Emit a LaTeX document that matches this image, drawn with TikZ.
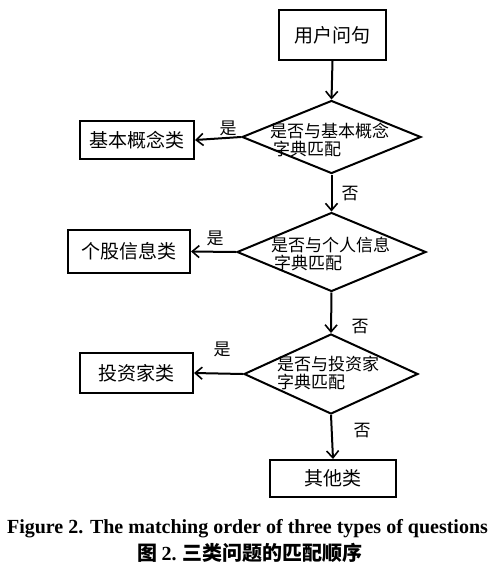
\documentclass[tikz,border=0pt]{standalone}
\usepackage{fontspec}
\setmainfont{Liberation Serif}
\newfontfamily\cjk{Noto Sans CJK SC}
\usetikzlibrary{arrows.meta,shapes.geometric}
\tikzset{
  box/.style={draw,line width=2pt,inner sep=0pt,font=\cjk\fontsize{19}{19}\selectfont},
  dia/.style={draw,diamond,line width=2pt,inner sep=0pt,aspect=1},
  dtext/.style={anchor=west,align=left,inner sep=0pt,font=\cjk\fontsize{17}{18}\selectfont},
  lab/.style={inner sep=0pt,font=\cjk\fontsize{17}{17}\selectfont},
  arr/.style={line width=2pt,-{Straight Barb[length=7pt,width=12pt,line width=1.6pt]}}
}
\begin{document}
\begin{tikzpicture}[x=1pt,y=-1pt]
\useasboundingbox (0,0) rectangle (495,574);
\node[box,minimum width=107pt,minimum height=50pt] (q) at (332.5,35) {用户问句};
\node[dia,minimum width=179pt,minimum height=73pt] (d1) at (331.5,137) {};
\node[dia,minimum width=189pt,minimum height=79pt] (d2) at (331.5,252) {};
\node[dia,minimum width=174pt,minimum height=80pt] (d3) at (331,374) {};
\node[box,minimum width=114pt,minimum height=38pt] (b1) at (137,140) {基本概念类};
\node[box,minimum width=122pt,minimum height=43pt] (b2) at (129,251.5) {个股信息类};
\node[box,minimum width=113pt,minimum height=40pt] (b3) at (136.5,373) {投资家类};
\node[box,minimum width=126pt,minimum height=37pt] (b4) at (333,478.5) {其他类};
\node[dtext] (t1) at (270,140) {是否与基本概念\\\hspace*{3pt}字典匹配};
\node[dtext] (t2) at (271,254) {是否与个人信息\\\hspace*{3pt}字典匹配};
\node[dtext] (t3) at (277,373) {是否与投资家\\字典匹配};
\draw[arr] (q.south) -- (d1.north);
\draw[arr] (d1.west) -- (b1.east);
\draw[arr] (d1.south) -- (d2.north);
\draw[arr] (d2.west) -- (b2.east);
\draw[arr] (d2.south) -- (d3.north);
\draw[arr] (d3.west) -- (b3.east);
\draw[arr] (d3.south) -- (b4.north);
\node[lab] (y1) at (228,128) {是};
\node[lab] (y2) at (215,238) {是};
\node[lab] (y3) at (222,349) {是};
\node[lab] (n1) at (350,194) {否};
\node[lab] (n2) at (360,327) {否};
\node[lab] (n3) at (362,431) {否};
\node[inner sep=0pt,font=\bfseries\fontsize{20}{20}\selectfont] (c1) at (247.5,529) {Figure 2. The matching order of three types of questions};
\node[inner sep=0pt,font=\cjk\bfseries\fontsize{20}{20}\selectfont] (c2) at (250,553) {图 {\rmfamily 2.} 三类问题的匹配顺序};
\end{tikzpicture}
\end{document}
